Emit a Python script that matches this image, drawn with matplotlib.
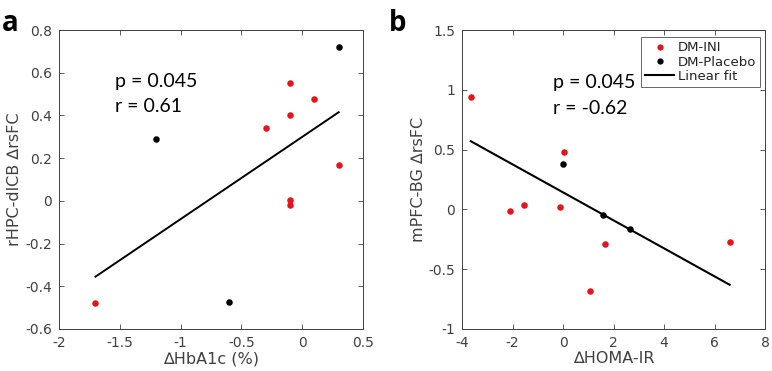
import matplotlib
matplotlib.use("Agg")
import matplotlib.pyplot as plt
from matplotlib.lines import Line2D

# Panel a data
a_ini_x = [-1.7, -0.3, -0.1, -0.1, 0.1, -0.1, -0.1, 0.3]
a_ini_y = [-0.48, 0.34, 0.55, 0.40, 0.475, 0.005, -0.02, 0.17]
a_plc_x = [0.3, -1.2, -0.6]
a_plc_y = [0.72, 0.29, -0.475]
a_fit_x = [-1.7, 0.3]
a_fit_y = [-0.355, 0.415]

# Panel b data
b_ini_x = [-3.65, -2.1, -1.55, -0.1, 0.05, 1.05, 1.65, 6.6]
b_ini_y = [0.94, -0.01, 0.04, 0.02, 0.48, -0.68, -0.29, -0.27]
b_plc_x = [0.0, 1.6, 2.65]
b_plc_y = [0.38, -0.05, -0.16]
b_fit_x = [-3.65, 6.6]
b_fit_y = [0.57, -0.63]

a_xticks = [-2, -1.5, -1, -0.5, 0, 0.5]
a_xticklabels = ['-2', '-1.5', '-1', '-0.5', '0', '0.5']
a_yticks = [-0.6, -0.4, -0.2, 0, 0.2, 0.4, 0.6, 0.8]
a_yticklabels = ['-0.6', '-0.4', '-0.2', '0', '0.2', '0.4', '0.6', '0.8']
b_xticks = [-4, -2, 0, 2, 4, 6, 8]
b_xticklabels = ['-4', '-2', '0', '2', '4', '6', '8']
b_yticks = [-1, -0.5, 0, 0.5, 1, 1.5]
b_yticklabels = ['-1', '-0.5', '0', '0.5', '1', '1.5']

RED = '#e3141c'
GRAY = '#404040'

fig = plt.figure(figsize=(7.72, 3.71), dpi=100)
ax1 = fig.add_axes([59/772, 1-329/371, 304/772, 299/371])
ax2 = fig.add_axes([462/772, 1-329/371, 303/772, 299/371])

def style(ax, xt, xtl, yt, ytl, xlim, ylim):
    ax.set_xlim(*xlim)
    ax.set_ylim(*ylim)
    ax.set_xticks(xt)
    ax.set_xticklabels(xtl)
    ax.set_yticks(yt)
    ax.set_yticklabels(ytl)
    ax.tick_params(direction='in', top=True, right=True, length=3.5, width=0.6,
                   colors=GRAY, labelsize=10, labelcolor=GRAY, pad=5)
    for s in ax.spines.values():
        s.set_color(GRAY)
        s.set_linewidth(0.7)

# Panel a
ax1.plot(a_fit_x, a_fit_y, color='black', lw=1.4, zorder=2)
ax1.scatter(a_ini_x, a_ini_y, s=22, color=RED, zorder=3, linewidths=0)
ax1.scatter(a_plc_x, a_plc_y, s=22, color='black', zorder=3, linewidths=0)
style(ax1, a_xticks, a_xticklabels, a_yticks, a_yticklabels, (-2, 0.5), (-0.6, 0.8))
ax1.set_xlabel('∆HbA1c (%)', fontsize=11.5, color=GRAY, labelpad=1)
ax1.set_ylabel('rHPC-dlCB ∆rsFC', fontsize=11.5, color=GRAY, labelpad=2)
ax1.text(-1.54, 0.557, 'p = 0.045', fontsize=14, family='Lato', va='center', ha='left')
ax1.text(-1.54, 0.44, 'r = 0.61', fontsize=14, family='Lato', va='center', ha='left')

# Panel b
ax2.plot(b_fit_x, b_fit_y, color='black', lw=1.5, zorder=2)
ax2.scatter(b_ini_x, b_ini_y, s=22, color=RED, zorder=3, linewidths=0)
ax2.scatter(b_plc_x, b_plc_y, s=22, color='black', zorder=3, linewidths=0)
style(ax2, b_xticks, b_xticklabels, b_yticks, b_yticklabels, (-4, 8), (-1, 1.5))
ax2.set_xlabel('∆HOMA-IR', fontsize=11.5, color=GRAY, labelpad=1)
ax2.set_ylabel('mPFC-BG ∆rsFC', fontsize=11.5, color=GRAY, labelpad=2)
ax2.text(-0.4, 1.06, 'p = 0.045', fontsize=14, family='Lato', va='center', ha='left')
ax2.text(-0.4, 0.845, 'r = -0.62', fontsize=14, family='Lato', va='center', ha='left')

handles = [
    Line2D([], [], ls='none', marker='o', color=RED, markersize=4.5, markeredgewidth=0),
    Line2D([], [], ls='none', marker='o', color='black', markersize=4.5, markeredgewidth=0),
    Line2D([], [], color='black', lw=1.5),
]
leg = ax2.legend(handles, ['DM-INI', 'DM-Placebo', 'Linear fit'], loc='upper right',
                 fontsize=9.5, frameon=True, fancybox=False, edgecolor=GRAY,
                 borderpad=0.3, labelspacing=0.1, handlelength=2.2, handletextpad=0.3,
                 bbox_to_anchor=(0.985, 0.975), borderaxespad=0)
leg.get_frame().set_linewidth(0.7)
for t in leg.get_texts():
    t.set_color('#222222')

fig.text(0.003, 0.975, 'a', fontsize=20, fontweight='bold', family='Open Sans', va='top', ha='left')
fig.text(0.504, 0.975, 'b', fontsize=20, fontweight='bold', family='Open Sans', va='top', ha='left')

fig.savefig('out.png', dpi=100)
